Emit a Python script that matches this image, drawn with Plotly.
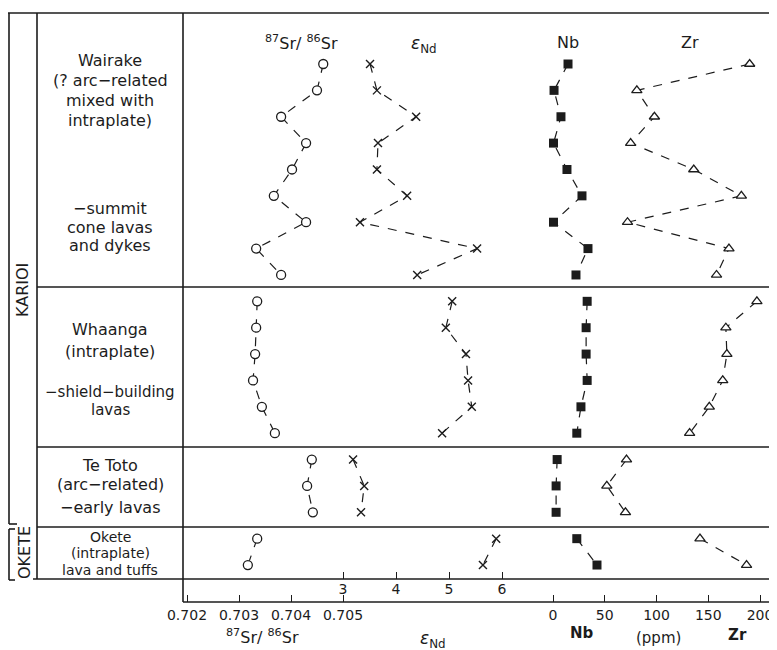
import plotly.graph_objects as go

# ---------------- data ----------------
groups = ["Wairake", "Whaanga", "Te Toto", "Okete"]

sr_wairake = [0.70462, 0.70450, 0.70381, 0.70429, 0.70402, 0.70367, 0.70429, 0.70333, 0.70381]
sr_whaanga = [0.70335, 0.70333, 0.70331, 0.70327, 0.70344, 0.70369]
sr_tetoto = [0.70440, 0.70431, 0.70442]
sr_okete = [0.70335, 0.70317]

end_wairake = [3.51, 3.64, 4.38, 3.66, 3.64, 4.21, 3.32, 5.53, 4.40]
end_whaanga = [5.06, 4.94, 5.32, 5.36, 5.43, 4.87]
end_tetoto = [3.19, 3.40, 3.34]
end_okete = [5.89, 5.64]

nb_wairake = [14.5, 1.0, 7.7, 0.5, 13.5, 28.0, 0.5, 33.8, 22.2]
nb_whaanga = [33, 32, 32, 33, 27, 23]
nb_tetoto = [4, 3, 3]
nb_okete = [23, 42.5]

zr_wairake = [190, 81, 98, 75, 136, 182, 72, 170, 158]
zr_whaanga = [197, 167, 168, 164, 151, 132]
zr_tetoto = [71, 52, 70]
zr_okete = [142, 187]

sr_ticks = [0.702, 0.703, 0.704, 0.705]
sr_ticktext = ["0.702", "0.703", "0.704", "0.705"]
end_ticks = [3, 4, 5, 6]
ppm_ticks = [0, 50, 100, 150, 200]

# ---------------- helpers ----------------
# The page puts the figure 8 px in from the window's top-left corner,
# so the figure covers window pixels 8..777 x 8..650.
OFF = 8
W, H = 777 - OFF, 650 - OFF
INK = "#1c1c1c"
FONT = "DejaVu Sans, Verdana, sans-serif"


def px(x):
    return (x - OFF) / W


def py(y):
    return 1 - (y - OFF) / H


def join(*lists):
    """Concatenate groups with None gaps so lines do not join across sections."""
    out = []
    for i, lst in enumerate(lists):
        if i:
            out.append(None)
        out.extend(lst)
    return out


def ypos(*lists):
    out, k = [], 0
    for i, lst in enumerate(lists):
        if i:
            out.append(None)
        for _ in lst:
            out.append(k)
            k += 1
    return out


sr = join(sr_wairake, sr_whaanga, sr_tetoto, sr_okete)
end = join(end_wairake, end_whaanga, end_tetoto, end_okete)
nb = join(nb_wairake, nb_whaanga, nb_tetoto, nb_okete)
zr = join(zr_wairake, zr_whaanga, zr_tetoto, zr_okete)
yy = ypos(sr_wairake, sr_whaanga, sr_tetoto, sr_okete)

fig = go.Figure()
line = dict(color=INK, width=1.2, dash="dash")

fig.add_trace(go.Scatter(x=sr, y=yy, xaxis="x", yaxis="y", mode="lines+markers",
                         line=line, connectgaps=False,
                         marker=dict(symbol="circle", size=9, color="white",
                                     line=dict(color=INK, width=1.3))))
fig.add_trace(go.Scatter(x=end, y=yy, xaxis="x2", yaxis="y", mode="lines+markers",
                         line=line, connectgaps=False,
                         marker=dict(symbol="x-thin", size=8, color=INK,
                                     line=dict(color=INK, width=1.4))))
fig.add_trace(go.Scatter(x=nb, y=yy, xaxis="x3", yaxis="y", mode="lines+markers",
                         line=line, connectgaps=False,
                         marker=dict(symbol="square", size=9, color=INK,
                                     line=dict(color=INK, width=0))))
fig.add_trace(go.Scatter(x=zr, y=yy, xaxis="x3", yaxis="y", mode="lines+markers",
                         line=line, connectgaps=False,
                         marker=dict(symbol="triangle-up", size=9, color="white",
                                     line=dict(color=INK, width=1.3))))

# ---------------- axes ----------------
# window-pixel calibrations: Sr 0.703@239px, 52000 px/unit ;
# eNd 3@343px, 53 px/unit ; ppm 0@553px, 1.035 px/ppm ; rows: 0@64px, 26.37 px/row
L, R, T, B = OFF, 777, OFF, 650
sr_range = [0.703 - (239 - L) / 52000, 0.703 + (R - 239) / 52000]
end_range = [3 - (343 - L) / 53, 3 + (R - 343) / 53]
ppm_range = [-(553 - L) / 1.035, (R - 553) / 1.035]
y_range = [(B - 64) / 26.37, (T - 64) / 26.37]

tickfont = dict(family=FONT, size=14, color=INK)
common = dict(domain=[0, 1], anchor="free", showgrid=False, zeroline=False,
              showline=False, ticks="inside", ticklen=7, tickwidth=1.3,
              tickcolor=INK, tickfont=tickfont, fixedrange=True,
              ticklabeloverflow="allow")

fig.update_layout(
    width=W, height=H,
    margin=dict(l=0, r=0, t=0, b=0),
    paper_bgcolor="white", plot_bgcolor="white",
    showlegend=False,
    font=dict(family=FONT, size=15, color=INK),
    xaxis=dict(range=sr_range, position=py(602), tickvals=sr_ticks,
               ticktext=sr_ticktext, ticklabelstandoff=3, **common),
    xaxis2=dict(range=end_range, position=py(579), overlaying="x",
                tickvals=end_ticks, **common),
    xaxis3=dict(range=ppm_range, position=py(602), overlaying="x",
                tickvals=ppm_ticks, ticklabelstandoff=3, **common),
    yaxis=dict(range=y_range, domain=[0, 1], visible=False, fixedrange=True),
)

# ---------------- frame lines ----------------
def hline(x0, x1, y, w=1.6):
    fig.add_shape(type="line", xref="paper", yref="paper",
                  x0=px(x0), x1=px(x1), y0=py(y), y1=py(y),
                  line=dict(color=INK, width=w))


def vline(x, y0, y1, w=1.6):
    fig.add_shape(type="line", xref="paper", yref="paper",
                  x0=px(x), x1=px(x), y0=py(y0), y1=py(y1),
                  line=dict(color=INK, width=w))


hline(8, R, 13)
hline(37, R, 287)
hline(37, R, 447)
hline(37, R, 527)
hline(33, R, 579)
hline(183, R, 602)
vline(37, 13, 579)
vline(183, 13, 602)
# KARIOI bracket
vline(9, 13, 524)
hline(9, 17, 524)
# OKETE bracket
vline(9, 529, 580)
hline(9, 15, 529)
hline(9, 15, 580)

# ---------------- text ----------------
def text(x, y, s, size=16, angle=0):
    fig.add_annotation(x=px(x), y=py(y), xref="paper", yref="paper", text=s,
                       showarrow=False, textangle=angle,
                       font=dict(family=FONT, size=size, color=INK),
                       xanchor="center", yanchor="middle")


text(23, 290, "KARIOI", angle=-90)
text(24, 553, "OKETE", angle=-90)

labels = [
    (110, 60, "Wairake", 16), (110, 80, "(? arc\u2212related", 16),
    (110, 100, "mixed with", 16), (110, 120, "intraplate)", 16),
    (110, 208, "\u2212summit", 16), (110, 227, "cone lavas", 16), (110, 245, "and dykes", 16),
    (110, 330, "Whaanga", 16), (110, 352, "(intraplate)", 16),
    (110, 392, "\u2212shield\u2212building", 15), (110, 410, "lavas", 15),
    (110, 465, "Te Toto", 16), (110, 484, "(arc\u2212related)", 16),
    (110, 507, "\u2212early lavas", 16),
    (110, 537, "Okete", 14), (110, 553, "(intraplate)", 14), (110, 570, "lava and tuffs", 14),
]
for x, y, s, sz in labels:
    text(x, y, s, size=sz)

# column headers
text(301, 43, "<sup>87</sup>Sr/ <sup>86</sup>Sr")
text(424, 45, "<i>\u03b5</i><sub>Nd</sub>", size=17)
text(568, 43, "Nb")
text(690, 43, "Zr")

# bottom axis titles
text(262, 636, "<sup>87</sup>Sr/ <sup>86</sup>Sr")
text(433, 639, "<i>\u03b5</i><sub>Nd</sub>", size=17)
text(582, 633, "<b>Nb</b>", size=15)
text(658, 638, "(ppm)", size=15)
text(737, 635, "<b>Zr</b>", size=15)

fig.write_html("out.html")
